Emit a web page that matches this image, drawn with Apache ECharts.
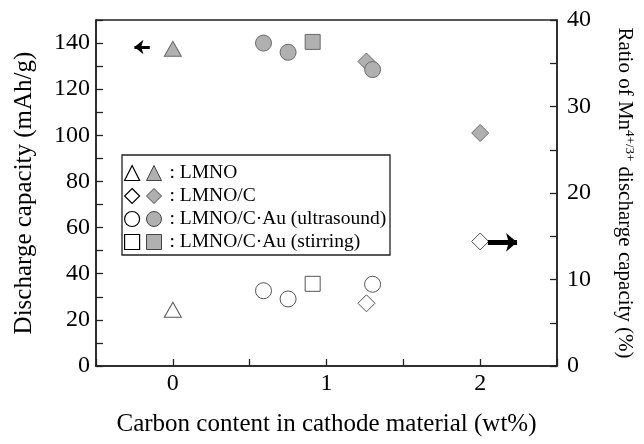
<!DOCTYPE html>
<html>
<head>
<meta charset="utf-8">
<script src="https://cdn.jsdelivr.net/npm/echarts@6/dist/echarts.min.js"></script>
<style>
  html, body { margin: 0; padding: 0; background: #fff; }
  #chart { width: 644px; height: 444px; }
</style>
</head>
<body>
<div id="chart"></div>
<script>
// Sample names and marker shapes
const sampleNames = ['LMNO', 'LMNO/C', 'LMNO/C·Au (ultrasound)', 'LMNO/C·Au (stirring)'];
const sampleSymbols = ['triangle', 'diamond', 'circle', 'rect'];

// Carbon content (wt%) of each measured sample, per group
const carbonLMNO = [0];
const carbonLMNOC = [1.26, 2.0];
const carbonUltrasound = [0.59, 0.75, 1.30];
const carbonStirring = [0.91];

// Discharge capacity (mAh/g), left axis, filled markers
const capacityLMNO = [137.5];
const capacityLMNOC = [132, 101];
const capacityUltrasound = [140, 136, 128.5];
const capacityStirring = [140.5];

// Ratio of Mn4+/3+ discharge capacity (%), right axis, hollow markers
const ratioLMNO = [6.5];
const ratioLMNOC = [7.25, 14.4];
const ratioUltrasound = [8.7, 7.75, 9.45];
const ratioStirring = [9.5];

// Axis ticks
const xTicks = [0, 1, 2];
const leftTicks = [0, 20, 40, 60, 80, 100, 120, 140];
const rightTicks = [0, 10, 20, 30, 40];

const FONT = "'Liberation Serif', 'Times New Roman', serif";
const INK = '#222';

const carbonGroups = [carbonLMNO, carbonLMNOC, carbonUltrasound, carbonStirring];
const capacityGroups = [capacityLMNO, capacityLMNOC, capacityUltrasound, capacityStirring];
const ratioGroups = [ratioLMNO, ratioLMNOC, ratioUltrasound, ratioStirring];

const symbolSizes = { triangle: [17, 15], diamond: 17, circle: 16, rect: 15 };

function pairs(xs, ys) { return xs.map((x, i) => [x, ys[i]]); }

const series = [];
// Hollow markers: Mn4+/3+ ratio
sampleNames.forEach((name, i) => {
  series.push({
    name: name + ' ',
    type: 'scatter',
    yAxisIndex: 1,
    symbol: sampleSymbols[i],
    symbolSize: symbolSizes[sampleSymbols[i]],
    itemStyle: { color: '#fff', borderColor: '#555', borderWidth: 1, opacity: 1 },
    data: pairs(carbonGroups[i], ratioGroups[i]),
    z: 3
  });
});
// Filled markers: discharge capacity
sampleNames.forEach((name, i) => {
  series.push({
    name: name,
    type: 'scatter',
    yAxisIndex: 0,
    symbol: sampleSymbols[i],
    symbolSize: symbolSizes[sampleSymbols[i]],
    itemStyle: { color: '#b0b0b0', borderColor: '#6a6a6a', borderWidth: 1, opacity: 1 },
    data: pairs(carbonGroups[i], capacityGroups[i]),
    z: 4
  });
});

// Arrows pointing to the axis each set of points belongs to
series[4].markLine = {
  silent: true,
  symbol: ['none', 'arrow'],
  symbolSize: [11, 9],
  label: { show: false },
  lineStyle: { color: '#000', width: 3, type: 'solid' },
  data: [[{ coord: [-0.15, 138.3] }, { coord: [-0.25, 138.3] }]]
};
series[1].markLine = {
  silent: true,
  symbol: ['none', 'arrow'],
  symbolSize: [14, 11],
  label: { show: false },
  lineStyle: { color: '#000', width: 5, type: 'solid' },
  data: [[{ coord: [2.05, 14.3] }, { coord: [2.24, 14.3] }]]
};

const chart = echarts.init(document.getElementById('chart'), null, { renderer: 'canvas' });

const legendCommon = {
  orient: 'vertical',
  top: 163,
  itemWidth: 15,
  itemHeight: 15,
  itemGap: 3,
  selectedMode: false,
  textStyle: { fontFamily: FONT, fontSize: 19.5, color: '#000', lineHeight: 18, padding: [0, 0, 0, 3] }
};

chart.setOption({
  animation: false,
  backgroundColor: '#fff',
  grid: {
    left: 96, right: 85, top: 20, bottom: 78,
    show: true, borderColor: INK, borderWidth: 1.5, backgroundColor: 'transparent'
  },
  legend: [
    Object.assign({}, legendCommon, {
      left: 124, padding: 0,
      data: sampleNames.map(n => n + ' '),
      formatter: () => ' ',
      itemStyle: { borderColor: '#000', borderWidth: 1.2 }
    }),
    Object.assign({}, legendCommon, {
      left: 146, padding: 0,
      data: sampleNames,
      formatter: name => ': ' + name,
      itemStyle: { borderColor: '#444', borderWidth: 1 }
    })
  ],
  graphic: [{
    type: 'rect',
    shape: { x: 122, y: 155, width: 268, height: 100 },
    style: { fill: 'none', stroke: INK, lineWidth: 1.3 },
    z: 1
  }],
  xAxis: {
    type: 'value',
    min: -0.5, max: 2.5, interval: 0.5,
    name: 'Carbon content in cathode material (wt%)',
    nameLocation: 'middle',
    nameGap: 46,
    nameTextStyle: { fontFamily: FONT, fontSize: 25, color: '#000' },
    axisLine: { onZero: false, lineStyle: { color: INK, width: 1.5 } },
    axisTick: { inside: true, length: 7, lineStyle: { color: INK, width: 1.3 } },
    axisLabel: {
      margin: 6,
      fontFamily: FONT, fontSize: 24, color: '#000',
      formatter: v => (xTicks.indexOf(v) >= 0 ? String(v) : '')
    },
    splitLine: { show: false }
  },
  yAxis: [{
    type: 'value',
    position: 'left',
    min: 0, max: 150, interval: 10,
    name: 'Discharge capacity (mAh/g)',
    nameLocation: 'middle',
    nameRotate: 90,
    nameGap: 59,
    nameTextStyle: { fontFamily: FONT, fontSize: 25, color: '#000' },
    axisLine: { show: true, onZero: false, lineStyle: { color: INK, width: 1.5 } },
    axisTick: { show: true, inside: true, length: 7, lineStyle: { color: INK, width: 1.3 } },
    axisLabel: {
      margin: 6,
      fontFamily: FONT, fontSize: 24, color: '#000',
      formatter: v => (leftTicks.indexOf(v) >= 0 ? String(v) : '')
    },
    splitLine: { show: false }
  }, {
    type: 'value',
    position: 'right',
    min: 0, max: 40, interval: 5,
    name: '{t|Ratio of Mn}{s|4+/3+}{t| discharge capacity (%)}',
    nameLocation: 'middle',
    nameRotate: -90,
    nameGap: 56,
    nameTextStyle: {
      fontFamily: FONT, fontSize: 21, color: '#000',
      rich: {
        t: { fontFamily: FONT, fontSize: 21, color: '#000' },
        s: { fontFamily: FONT, fontSize: 13, color: '#000', verticalAlign: 'top', padding: [0, 0, 10, 0] }
      }
    },
    axisLine: { show: true, onZero: false, lineStyle: { color: INK, width: 1.5 } },
    axisTick: { show: true, inside: true, length: 7, lineStyle: { color: INK, width: 1.3 } },
    axisLabel: {
      margin: 10,
      fontFamily: FONT, fontSize: 24, color: '#000',
      formatter: v => (rightTicks.indexOf(v) >= 0 ? String(v) : '')
    },
    splitLine: { show: false }
  }],
  series: series
});
</script>
</body>
</html>
